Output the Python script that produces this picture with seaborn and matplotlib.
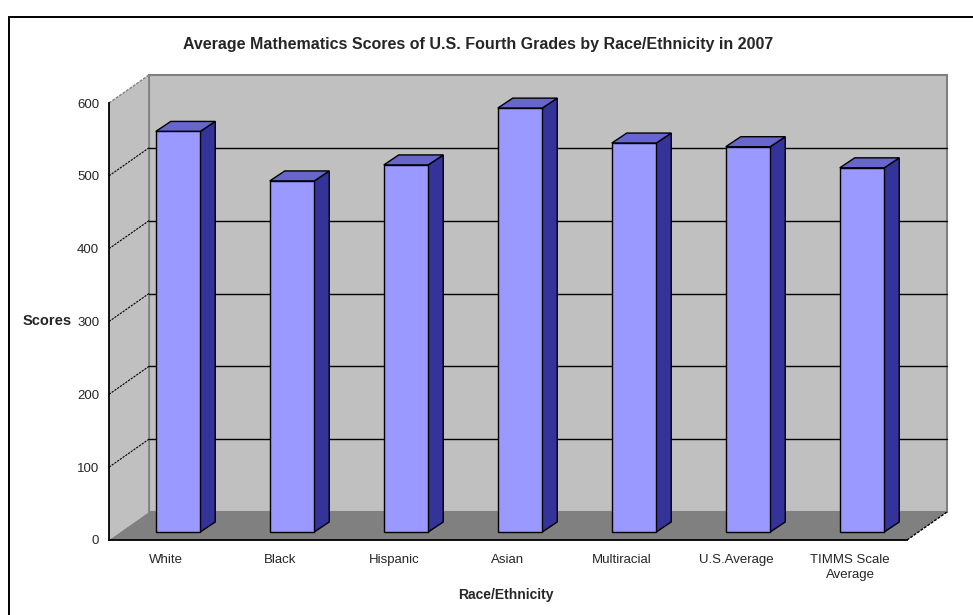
import matplotlib
matplotlib.use("Agg")
import matplotlib.pyplot as plt
from matplotlib.patches import Polygon
from matplotlib.lines import Line2D
from matplotlib.transforms import ScaledTranslation
import seaborn as sns
import pandas as pd

# Data
categories = ["White", "Black", "Hispanic", "Asian", "Multiracial", "U.S.Average", "TIMMS Scale\nAverage"]
scores = [550, 482, 504, 582, 534, 529, 500]
y_ticks = [0, 100, 200, 300, 400, 500, 600]

title = "Average Mathematics Scores of U.S. Fourth Grades by Race/Ethnicity in 2007"
x_title = "Race/Ethnicity"
y_title = "Scores"

FRONT = "#9999ff"
SIDE = "#333399"
TOP = "#6666cc"
WALL = "#c0c0c0"
FLOOR = "#808080"

sns.set_style("white")
plt.rcParams["font.family"] = ["Liberation Sans", "DejaVu Sans"]

W, H = 973, 615
fig = plt.figure(figsize=(W / 100, H / 100), dpi=100)
fig.patch.set_facecolor("white")

# front plane of the 3-D box, in pixels (top-left origin)
x_left, x_right = 109, 907
y_zero, y_top = 540, 103
ax = fig.add_axes([x_left / W, (H - y_zero) / H, (x_right - x_left) / W, (y_zero - y_top) / H])
ax.set_facecolor("none")

df = pd.DataFrame({"cat": categories, "score": scores})
sns.barplot(data=df, x="cat", y="score", width=0.39, color=FRONT,
            edgecolor="black", linewidth=1.0, saturation=1, ax=ax, zorder=3)
bars = list(ax.patches)

ax.set_xlim(-0.5, 6.5)
ax.set_ylim(0, 600)

sx = 7 / (x_right - x_left)        # data units per pixel, x
sy = 600 / (y_zero - y_top)        # data units per pixel, y
DX, DY = 40 * sx, 28 * sy          # depth of the box
bdx, bdy = 15 * sx, 10 * sy        # depth of each bar

# walls and floor
back = Polygon([(-0.5 + DX, DY), (6.5 + DX, DY), (6.5 + DX, 600 + DY), (-0.5 + DX, 600 + DY)],
               closed=True, facecolor=WALL, edgecolor=FLOOR, linewidth=1.5, zorder=0.2, clip_on=False)
side = Polygon([(-0.5, 0), (-0.5 + DX, DY), (-0.5 + DX, 600 + DY), (-0.5, 600)],
               closed=True, facecolor=WALL, edgecolor="none", zorder=0.2, clip_on=False)
floor = Polygon([(-0.5, 0), (6.5, 0), (6.5 + DX, DY), (-0.5 + DX, DY)],
                closed=True, facecolor=FLOOR, edgecolor="none", zorder=0.3, clip_on=False)
for p in (back, side, floor):
    ax.add_patch(p)
ax.add_line(Line2D([-0.5 + DX, -0.5 + DX], [DY, 600 + DY], color=FLOOR, lw=1.2, zorder=0.35, clip_on=False))
ax.add_line(Line2D([-0.5, -0.5 + DX], [600, 600 + DY], color=FLOOR, lw=1.0, ls=(0, (2, 1)), zorder=0.35, clip_on=False))
ax.add_line(Line2D([6.5, 6.5 + DX], [0, DY], color="black", lw=1.0, ls=(0, (2, 1)), zorder=0.35, clip_on=False))

# gridlines on the back wall and the side wall
for v in y_ticks[1:-1]:
    ax.add_line(Line2D([-0.5 + DX, 6.5 + DX], [v + DY, v + DY], color="black", lw=1.0, zorder=0.4, clip_on=False))
for v in y_ticks[1:-1]:
    ax.add_line(Line2D([-0.5, -0.5 + DX], [v, v + DY], color="black", lw=0.8, ls=(0, (2, 1)), zorder=0.4, clip_on=False))

# give each bar its depth: shift front face, add side and top faces
shift = ax.transData + ScaledTranslation(12 / 100, 8 / 100, fig.dpi_scale_trans)
for b in bars:
    b.set_transform(shift)
    b.set_clip_on(False)
    x0, x1, h = b.get_x(), b.get_x() + b.get_width(), b.get_height()
    sf = Polygon([(x1, 0), (x1 + bdx, bdy), (x1 + bdx, h + bdy), (x1, h)], closed=True,
                 facecolor=SIDE, edgecolor="black", linewidth=1.0, zorder=2.9, clip_on=False, transform=shift)
    tf = Polygon([(x0, h), (x1, h), (x1 + bdx, h + bdy), (x0 + bdx, h + bdy)], closed=True,
                 facecolor=TOP, edgecolor="black", linewidth=1.0, zorder=2.9, clip_on=False, transform=shift)
    ax.add_patch(sf)
    ax.add_patch(tf)

# axes
for s in ("top", "right"):
    ax.spines[s].set_visible(False)
for s in ("left", "bottom"):
    ax.spines[s].set_color("black")
    ax.spines[s].set_linewidth(1.3)
    ax.spines[s].set_zorder(5)

ax.set_yticks(y_ticks)
ax.set_yticklabels([str(v) for v in y_ticks])
ax.tick_params(axis="y", direction="out", length=4, width=1.2, color="black", pad=3, labelsize=9.5)

ax.set_xticks([i - 0.5 for i in range(8)])
ax.set_xticklabels([])
ax.set_xticks(list(range(7)), minor=True)
ax.set_xticklabels(categories, minor=True)
ax.tick_params(axis="x", which="major", direction="out", length=4.5, width=1.2, color="black")
ax.tick_params(axis="x", which="minor", length=0, pad=10, labelsize=9.5)
for t in ax.get_xticklabels(minor=True):
    t.set_linespacing(1.35)
ax.set_xlabel("")
ax.set_ylabel("")

# titles
fig.text(478 / W, 1 - 44 / H, title, ha="center", va="center", fontsize=11.5, fontweight="bold")
fig.text(47 / W, 1 - 321 / H, y_title, ha="center", va="center", fontsize=10.5, fontweight="bold")
fig.text(506 / W, 1 - 595 / H, x_title, ha="center", va="center", fontsize=10, fontweight="bold")

# chart frame
fig.add_artist(Line2D([9 / W, 9 / W], [0, 1 - 17 / H], color="black", lw=1.4, transform=fig.transFigure))
fig.add_artist(Line2D([9 / W, 1], [1 - 17 / H, 1 - 17 / H], color="black", lw=1.4, transform=fig.transFigure))

fig.savefig("out.png", dpi=100)
